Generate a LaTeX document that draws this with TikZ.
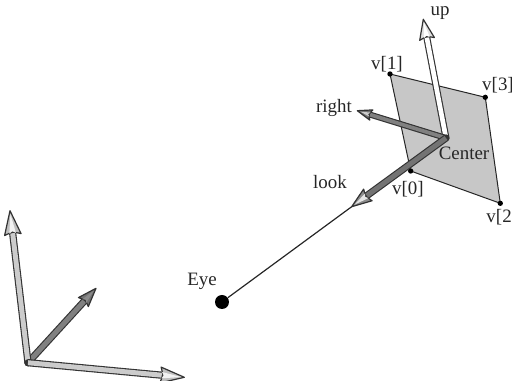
\documentclass[tikz,border=0pt]{standalone}
\usepackage{fontspec}
\setmainfont{Liberation Serif}
\usetikzlibrary{calc}
\tikzset{
  lbl/.style={inner sep=0pt,font=\fontsize{14.2pt}{15pt}\selectfont,text=black!85},
  vertexdot/.style={circle,fill=black,inner sep=0pt,minimum size=4pt},
}
\newcommand{\axisarrow}[8]{%
  \draw[line width=#6pt,black!80,line cap=round] (#1) -- ($(#2)!#8pt!(#1)$);
  \draw[line width=#6pt-1.7pt,#3] (#1) -- ($(#2)!#8pt!(#1)$);
  \filldraw[draw=black!80,fill=#4,line width=.9pt,line join=round]
    (#2) -- ($(#2)!#8pt+1pt!(#1)!#7pt!90:(#1)$) -- ($(#2)!#8pt-1pt!(#1)$)
    -- ($(#2)!#8pt+1pt!(#1)!#7pt!-90:(#1)$) -- cycle;
  \fill[#5]
    ($(#2)!2.5pt!(#1)$) -- ($(#2)!#8pt!(#1)!#7pt*0.4!90:(#1)$)
    -- ($(#2)!#8pt-1.5pt!(#1)$) -- ($(#2)!#8pt!(#1)!#7pt*0.4!-90:(#1)$) -- cycle;
}
\begin{document}
\begin{tikzpicture}[x=.75pt,y=-.75pt]
\useasboundingbox (0,0) rectangle (512,381);
\clip (0,0) rectangle (512,381);
\coordinate (v0) at (410.7,171);
\coordinate (v1) at (390,74);
\coordinate (v3) at (485.3,97.3);
\coordinate (v2) at (500.3,203.3);
\coordinate (center) at (446,138);
\coordinate (uptip) at (423.3,19.3);
\coordinate (righttip) at (357.3,110.7);
\coordinate (looktip) at (351.7,206.7);
\fill[black!22] (v0) -- (v1) -- (v3) -- (v2) -- cycle;
\draw[black!85,line width=.75pt,line join=round] (v0) -- (v1) -- (v3) -- (v2) -- cycle;
\node[vertexdot] (d0) at (v0) {};
\node[vertexdot] (d1) at (v1) {};
\node[vertexdot] (d2) at (v2) {};
\node[vertexdot] (d3) at (v3) {};
\node[circle,fill=black,inner sep=0pt,minimum size=10.5pt] (eye) at (222,302) {};
\draw[black!85,line width=.9pt] (eye) -- (looktip);
\axisarrow{center}{uptip}{white}{black!12}{white}{5.2}{5.6}{14}
\axisarrow{center}{righttip}{black!50}{black!55}{black!20}{4.5}{4}{10}
\axisarrow{center}{looktip}{black!55}{black!45}{black!10}{5.4}{5.4}{14}
\coordinate (origin) at (28,362.7);
\coordinate (wup) at (10,210.7);
\coordinate (wright) at (184.3,377.3);
\coordinate (wdepth) at (96,288.3);
\axisarrow{origin}{wdepth}{black!50}{black!55}{black!45}{5.4}{5}{13}
\axisarrow{origin}{wup}{black!20}{black!25}{black!5}{5.4}{6.2}{17}
\axisarrow{origin}{wright}{black!20}{black!25}{black!5}{5.4}{6}{17}
\node[lbl] (lup) at (440,13) {up};
\node[lbl] (lv1) at (387,64) {v[1]};
\node[lbl] (lv3) at (498,85) {v[3]};
\node[lbl] (lright) at (334,108) {right};
\node[lbl] (lcenter) at (464,153) {Center};
\node[lbl] (llook) at (330,182) {look};
\node[lbl] (lv0) at (408,189) {v[0]};
\node[lbl,anchor=east] (lv2) at (512,217) {v[2};
\node[lbl] (leye) at (202,281) {Eye};
\end{tikzpicture}
\end{document}
